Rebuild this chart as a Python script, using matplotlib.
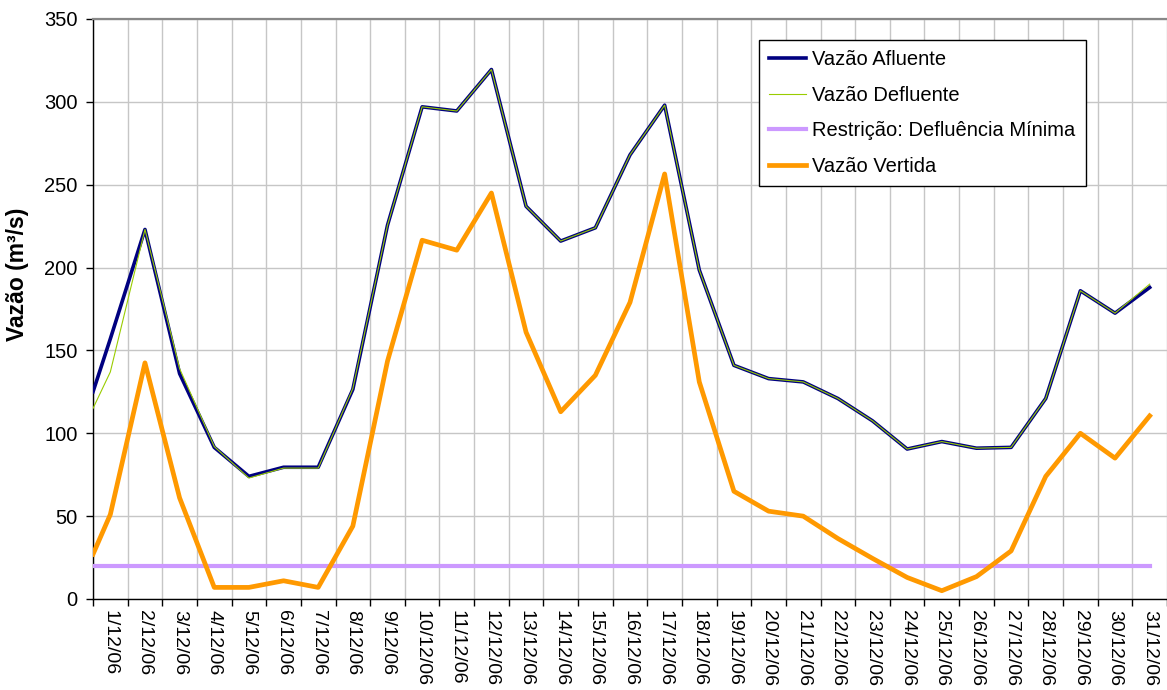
import matplotlib
matplotlib.use("Agg")
import matplotlib.pyplot as plt
from matplotlib.ticker import FixedLocator, NullFormatter

plt.rcParams['font.family'] = ['Liberation Sans', 'DejaVu Sans']

# ---- data -------------------------------------------------------------
days = ["1/12/06", "2/12/06", "3/12/06", "4/12/06", "5/12/06", "6/12/06", "7/12/06",
        "8/12/06", "9/12/06", "10/12/06", "11/12/06", "12/12/06", "13/12/06", "14/12/06",
        "15/12/06", "16/12/06", "17/12/06", "18/12/06", "19/12/06", "20/12/06", "21/12/06",
        "22/12/06", "23/12/06", "24/12/06", "25/12/06", "26/12/06", "27/12/06", "28/12/06",
        "29/12/06", "30/12/06", "31/12/06"]

# first value = start of period (left edge), then one value per day
afluente = [125, 157, 223, 136, 91.5, 74, 79.5, 79.5, 126.5, 225.5,
            297, 294.5, 319.5, 237, 216, 224, 268, 298, 198.5, 141,
            133, 131, 121, 107.5, 90.5, 95, 91, 91.5, 121, 186,
            172.5, 188]
defluente = [115, 137, 223, 139, 92, 73, 79, 79, 127, 225.5,
             297, 294.5, 319.5, 237, 216, 224, 268, 298, 198.5, 141,
             133, 131, 121, 107.5, 90.5, 95, 91, 91.5, 121, 186,
             172.5, 190]
restricao = [20, 20, 20, 20, 20, 20, 20, 20, 20, 20,
             20, 20, 20, 20, 20, 20, 20, 20, 20, 20,
             20, 20, 20, 20, 20, 20, 20, 20, 20, 20,
             20, 20]
vertida = [27, 51, 142.5, 61, 7, 7, 11, 7, 44, 143.5,
           216.5, 210.5, 245, 161, 113, 135, 179, 256.5, 131, 65,
           53, 50, 36.5, 24.5, 13, 5, 13.5, 29, 74, 100,
           85, 110.5]

series_names = ["Vazão Afluente", "Vazão Defluente",
                "Restrição: Defluência Mínima", "Vazão Vertida"]

# ---- figure -----------------------------------------------------------
W, H = 1167, 690
fig = plt.figure(figsize=(W / 100, H / 100), dpi=100)
ax = fig.add_axes([93 / W, (H - 599) / H, (W - 93) / W, 580 / H])

n = len(days)
centers = [i + 0.5 for i in range(n)]
xs = [0.0] + centers

ax.plot(xs, afluente, color="#000080", lw=2.6, label=series_names[0], zorder=3)
ax.plot(xs, defluente, color="#99CC00", lw=0.8, label=series_names[1], zorder=4)
ax.plot(xs, restricao, color="#CC99FF", lw=3.0, label=series_names[2], zorder=5)
ax.plot(xs, vertida, color="#FF9900", lw=3.4, label=series_names[3], zorder=6)

ax.set_xlim(0, n)
ax.set_ylim(0, 350)

# grid
ax.set_yticks(range(0, 351, 50))
ax.xaxis.set_major_locator(FixedLocator(list(range(0, n + 1))))
ax.xaxis.set_major_formatter(NullFormatter())
ax.xaxis.set_minor_locator(FixedLocator(centers))
ax.set_xticklabels(days, minor=True, rotation=270, fontsize=14, va="top", ha="center")
ax.grid(True, which="major", color="#C6C6C6", lw=1.0, zorder=0)
ax.set_axisbelow(True)

ax.tick_params(axis="x", which="major", length=5, width=1, direction="out", color="black")
ax.tick_params(axis="x", which="minor", length=0, pad=8)
ax.tick_params(axis="y", length=5, width=1, direction="out", labelsize=14.5, pad=6)

for s in ("left", "bottom"):
    ax.spines[s].set_color("black")
    ax.spines[s].set_linewidth(1.0)
ax.spines["top"].set_color("#888888")
ax.spines["top"].set_linewidth(1.6)
ax.spines["right"].set_visible(False)

fig.text(18 / W, 1 - 274 / H, "Vazão (m³/s)", rotation=90, ha="center", va="center",
         fontsize=16.5, fontweight="bold")

leg = ax.legend(loc="upper left", bbox_to_anchor=(759 / W, 1 - 40 / H),
                bbox_transform=fig.transFigure, borderaxespad=0,
                fontsize=14.5, frameon=True, fancybox=False, framealpha=1,
                edgecolor="black", handlelength=1.85, handletextpad=0.3,
                borderpad=0.5, labelspacing=0.82)
leg.get_frame().set_linewidth(1.0)

fig.savefig("out.png", dpi=100)
